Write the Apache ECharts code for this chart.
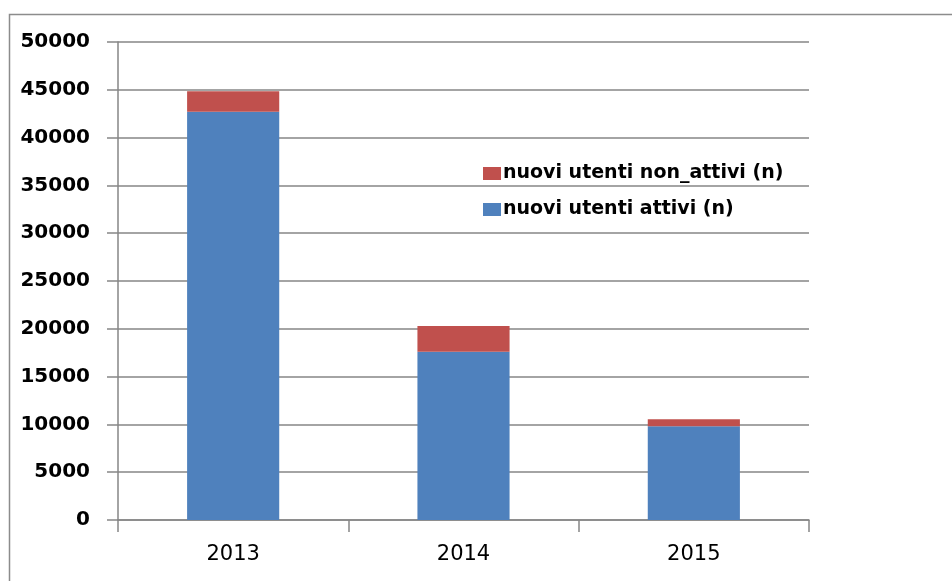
<!DOCTYPE html>
<html>
<head>
<meta charset="utf-8">
<script src="https://cdn.jsdelivr.net/npm/echarts@6/dist/echarts.min.js"></script>
<style>
html,body{margin:0;padding:0;background:#fff;}
#c{width:952px;height:581px;}
</style>
</head>
<body>
<div id="c"></div>
<script>
var categories = ['2013', '2014', '2015'];
var attivi = [42700, 17600, 9800];
var nonAttivi = [2150, 2700, 750];
var seriesNames = ['nuovi utenti attivi (n)', 'nuovi utenti non_attivi (n)'];

var chart = echarts.init(document.getElementById('c'));
chart.setOption({
  animation: false,
  backgroundColor: '#ffffff',
  graphic: [{
    type: 'rect', left: 7, top: 12, silent: true,
    shape: {x: 0, y: 0, width: 960, height: 600},
    style: {fill: 'none', stroke: '#8c8c8c', lineWidth: 1.5}
  }],
  grid: {left: 118, right: 143, top: 42, bottom: 61},
  legend: {
    orient: 'vertical',
    left: 483, top: 164,
    padding: 0,
    itemGap: 17,
    itemWidth: 18, itemHeight: 13,
    icon: 'rect',
    data: [seriesNames[1], seriesNames[0]],
    textStyle: {fontFamily: 'DejaVu Sans', fontWeight: 'bold', fontSize: 19, color: '#000', padding: [0, 0, 0, -3]}
  },
  xAxis: {
    type: 'category',
    data: categories,
    boundaryGap: true,
    axisLine: {lineStyle: {color: '#868686', width: 1.5}},
    axisTick: {show: true, length: 12, lineStyle: {color: '#868686', width: 1.5}},
    axisLabel: {fontFamily: 'DejaVu Sans', fontSize: 21, color: '#000', margin: 24}
  },
  yAxis: {
    type: 'value',
    min: 0, max: 50000, interval: 5000,
    axisLine: {show: true, lineStyle: {color: '#868686', width: 1.5}},
    axisTick: {show: true, length: 11, lineStyle: {color: '#868686', width: 1.5}},
    splitLine: {lineStyle: {color: '#868686', width: 1.5}},
    axisLabel: {fontFamily: 'DejaVu Sans', fontWeight: 'bold', fontSize: 20, color: '#000', margin: 28,
      formatter: function (v) { return String(v); }}
  },
  series: [
    {name: seriesNames[0], type: 'bar', stack: 'tot', data: attivi, barWidth: '40%',
     itemStyle: {color: '#4F81BD'}},
    {name: seriesNames[1], type: 'bar', stack: 'tot', data: nonAttivi, barWidth: '40%',
     itemStyle: {color: '#C0504D'}}
  ]
});
</script>
</body>
</html>
